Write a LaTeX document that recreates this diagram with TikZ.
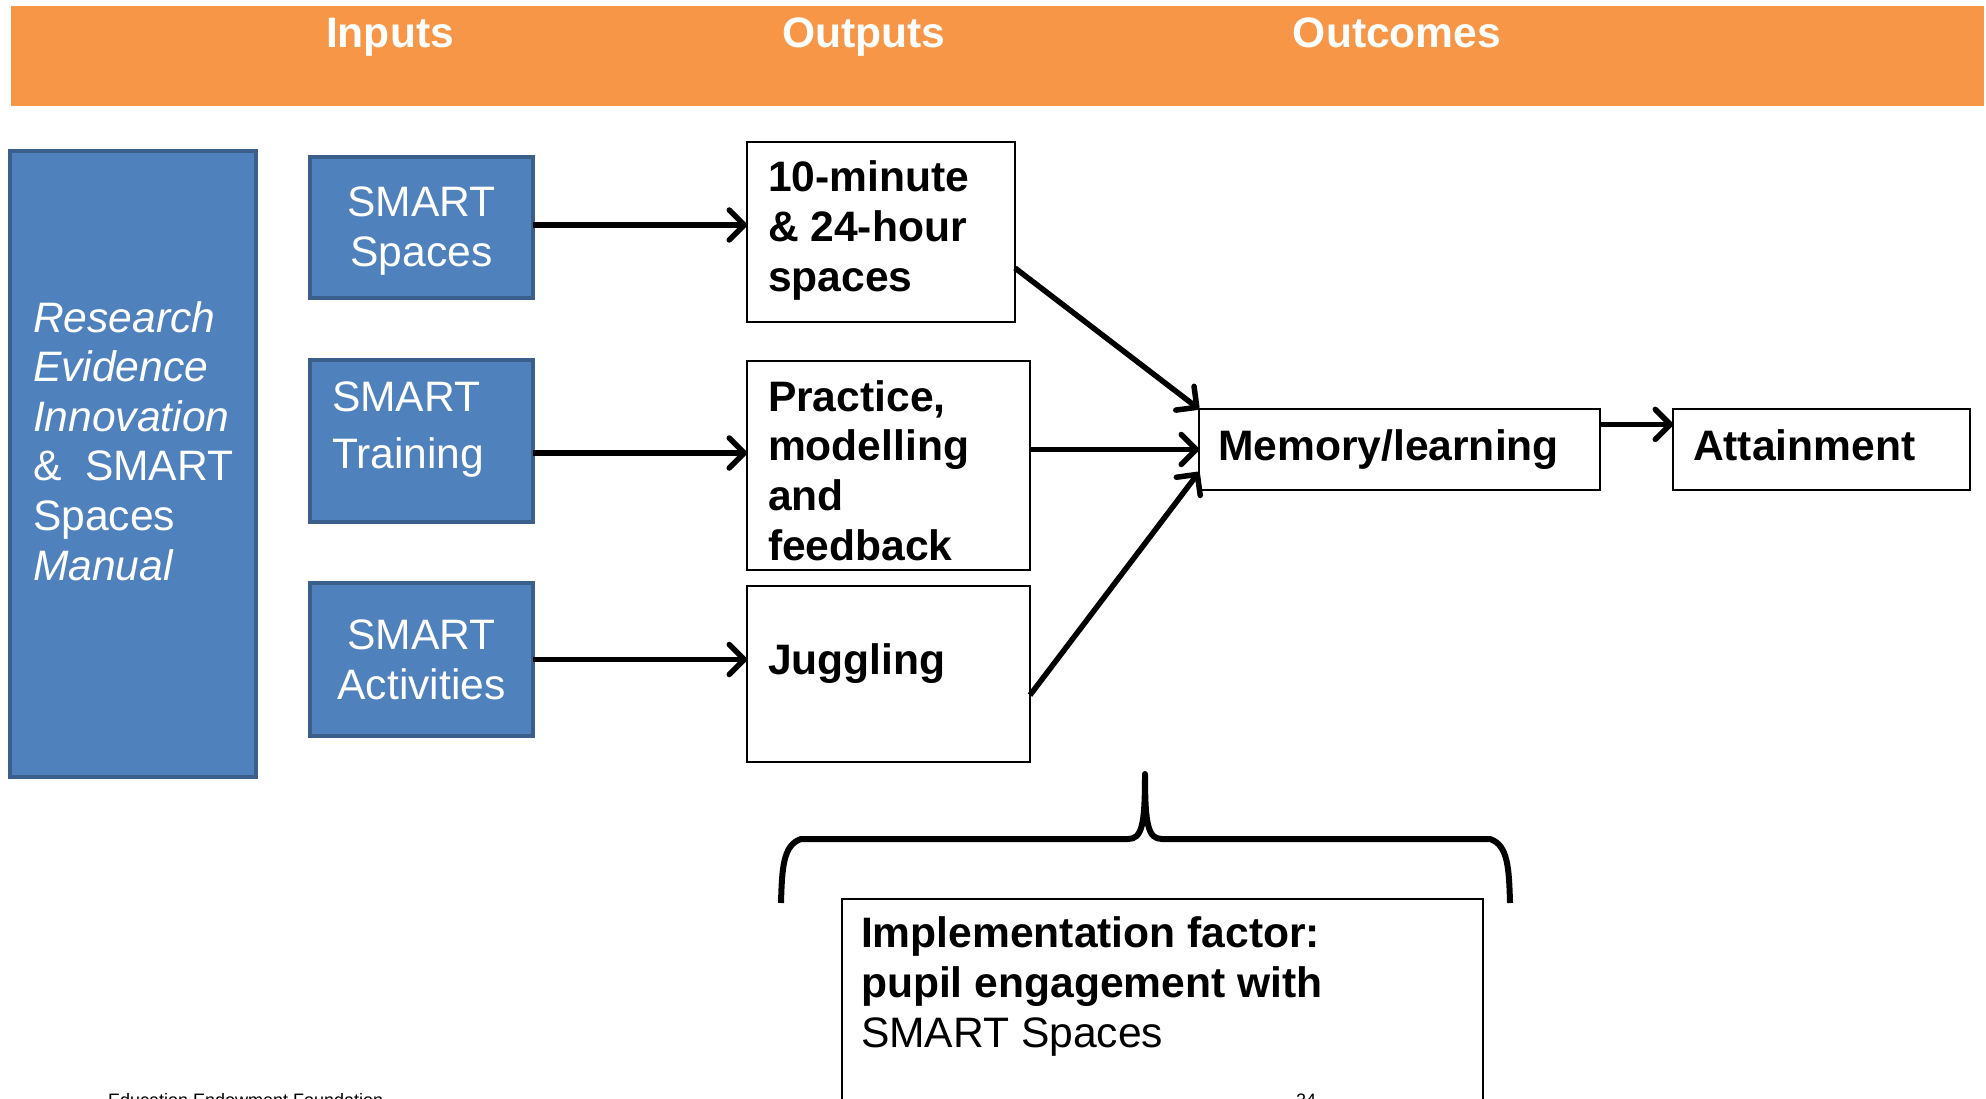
\documentclass[tikz,border=0pt]{standalone}
\usepackage{fontspec}
\setmainfont{Liberation Sans}
\usetikzlibrary{arrows.meta,calc}
\definecolor{bandorange}{HTML}{F79646}
\definecolor{boxblue}{HTML}{4F81BD}
\definecolor{boxedge}{HTML}{3A5F8B}
\begin{document}
\begin{tikzpicture}[x=1pt,y=-1pt,
  every node/.style={inner sep=0pt, outer sep=0pt},
  bluebox/.style={draw=boxedge, fill=boxblue, line width=4pt},
  whitebox/.style={draw=black, fill=white, line width=1.8pt},
  wtext/.style={font=\fontsize{42.6}{49.6}\selectfont, text=white},
  btext/.style={font=\fontsize{42.6}{49.6}\selectfont\bfseries, text=black},
  htext/.style={font=\fontsize{42.6}{49.6}\selectfont\bfseries, text=white},
  ftext/.style={font=\fontsize{18}{21}\selectfont, text=black},
  arr/.style={line width=5.5pt, -{Straight Barb[length=15pt,width=30pt,round]}},
  bracepath/.style={line width=6pt, line join=round, line cap=butt},
]
\useasboundingbox (0,0) rectangle (1986,1099);
\clip (0,0) rectangle (1986,1099);

% header band
\node[fill=bandorange, minimum width=1973pt, minimum height=100pt] (band) at (997.5,56) {};
\node[htext, anchor=base] (hin) at (390,48) {Inputs};
\node[htext, anchor=base] (hout) at (864,48) {Outputs};
\node[htext, anchor=base] (hoc) at (1397,48) {Outcomes};

% left column
\node[bluebox, minimum width=246pt, minimum height=626pt] (res) at (133,464) {};
\node[wtext, anchor=base west, align=left] (restxt) at (33,580)
  {{\itshape Research}\\{\itshape Evidence}\\{\itshape Innovation}\\\& \ SMART\\Spaces\\{\itshape Manual}};

% inputs
\node[bluebox, minimum width=223pt, minimum height=141pt] (sp) at (421.5,227.5) {};
\node[wtext, anchor=base, align=center] (sptxt) at (421.5,266.5) {SMART\\Spaces};
\node[bluebox, minimum width=223pt, minimum height=162pt] (tr) at (421.5,441) {};
\node[wtext, anchor=base west, align=left] (trtxt) at (332,468.5) {SMART\\[7.4pt]Training};
\node[bluebox, minimum width=223pt, minimum height=153pt] (ac) at (421.5,659.5) {};
\node[wtext, anchor=base, align=center] (actxt) at (421.5,699) {SMART\\Activities};

% outputs
\node[whitebox, minimum width=268pt, minimum height=180pt] (o1) at (881,232) {};
\node[btext, anchor=base west, align=left] (o1txt) at (768,291) {10-minute\\\& 24-hour\\spaces};
\node[whitebox, minimum width=283pt, minimum height=209pt] (o2) at (888.5,465.5) {};
\node[btext, anchor=base west, align=left] (o2txt) at (768,560) {Practice,\\modelling\\and\\feedback};
\node[whitebox, minimum width=283pt, minimum height=176pt] (o3) at (888.5,674) {};
\node[btext, anchor=base west] (o3txt) at (768,674) {Juggling};

% outcomes
\node[whitebox, minimum width=401pt, minimum height=81pt] (mem) at (1399.5,449.5) {};
\node[btext, anchor=base west] (memtxt) at (1218,460) {Memory/learning};
\node[whitebox, minimum width=297pt, minimum height=81pt] (att) at (1821.5,449.5) {};
\node[btext, anchor=base west] (atttxt) at (1693,460) {Attainment};

% implementation
\node[whitebox, minimum width=641pt, minimum height=240pt] (imp) at (1162.5,1019) {};
\node[btext, anchor=base west, align=left] (imptxt) at (861,1047)
  {Implementation factor:\\pupil engagement with\\\mdseries SMART Spaces};

% footer
\node[ftext, anchor=base west] (foot) at (108,1106) {Education Endowment Foundation};
\node[ftext, anchor=base west] (page) at (1296,1106) {24};

% arrows
\draw[arr] ([yshift=2.5pt]sp.east) -- ([yshift=2.5pt]sp.east -| o1.west);
\draw[arr] ([yshift=-12pt]tr.east) -- ([yshift=-12pt]tr.east -| o2.west);
\draw[arr] (ac.east) -- (ac.east -| o3.west);
\draw[arr] ($(o1.north east)!0.7!(o1.south east)$) -- (mem.north west);
\draw[arr] (o2.east |- mem.west) -- (mem.west);
\draw[arr] ($(o3.north east)!0.62!(o3.south east)$) -- ($(mem.north west)!0.78!(mem.south west)$);
\coordinate (ma) at ($(mem.north east)!0.19!(mem.south east)$);
\draw[arr] (ma) -- (ma -| att.west);

% brace
\draw[bracepath] (781,903) .. controls (782,868) and (783,845) .. (801,839)
  -- (1128,839) .. controls (1142,839) and (1145,825) .. (1145,774)
  .. controls (1145,825) and (1148,839) .. (1162,839)
  -- (1490,839) .. controls (1508,845) and (1509,868) .. (1510,903);
\end{tikzpicture}
\end{document}
